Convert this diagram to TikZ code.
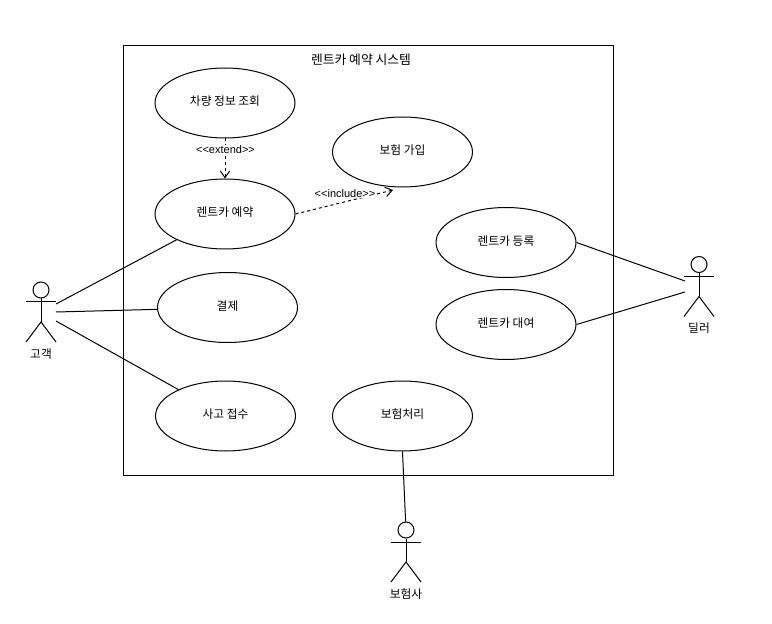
\documentclass[tikz,border=0pt]{standalone}
\usepackage{fontspec}
\setmainfont{Liberation Sans}
\newfontfamily\krfont{Noto Sans CJK KR}
\usetikzlibrary{shapes.geometric,arrows.meta}
\tikzset{
  x=0.75pt,y=-0.75pt,
  usecase/.style={draw,ellipse,minimum width=105pt,minimum height=52.5pt,inner sep=0pt,font=\krfont\fontsize{8.8}{10}\selectfont,text height=7pt,text depth=2.8pt,line width=0.75pt},
  actorhead/.style={draw,circle,minimum size=12pt,inner sep=0pt,line width=0.75pt},
  actorlabel/.style={font=\krfont\fontsize{8.8}{10}\selectfont,inner sep=0pt},
  stereo/.style={font=\fontsize{8.25}{10}\selectfont,fill=white,inner sep=0.5pt},
  assoc/.style={line width=0.75pt},
  dep/.style={line width=0.75pt,dash pattern=on 2.25pt off 2.25pt,-{Straight Barb[length=5pt,width=7pt]}}
}
\newcommand{\actorfig}[3]{%
  \node[actorhead] (#3) at (#1,#2) {};
  \coordinate (#3arml) at (#1-15,#2+12);
  \coordinate (#3armr) at (#1+15,#2+12);
  \coordinate (#3hip) at (#1,#2+32);
  \coordinate (#3footl) at (#1-15,#2+52);
  \coordinate (#3footr) at (#1+15,#2+52);
  \draw[assoc] (#3.south) -- (#3hip);
  \draw[assoc] (#3arml) -- (#3armr);
  \draw[assoc] (#3footl) -- (#3hip) -- (#3footr);
}
\begin{document}
\begin{tikzpicture}
\useasboundingbox (0,0) rectangle (772,624);
\fill[white] (0,0) rectangle (772,624);
\node[draw,line width=0.75pt,minimum width=367.5pt,minimum height=322.5pt,inner sep=0pt,anchor=north west] (frame) at (122.8,45) {};
\node[font=\krfont\fontsize{9.6}{11}\selectfont,inner sep=0pt] (title) at (361,60) {렌트카 예약 시스템};

\node[usecase] (car) at (225,103) {차량 정보 조회};
\node[usecase] (rent) at (225,214) {렌트카 예약};
\node[usecase] (ins) at (402.5,152) {보험 가입};
\node[usecase] (pay) at (227.5,307.5) {결제};
\node[usecase] (acc) at (225.5,416) {사고 접수};
\node[usecase] (proc) at (402.5,416) {보험처리};
\node[usecase] (reg) at (506,242.5) {렌트카 등록};
\node[usecase] (lend) at (506,324.5) {렌트카 대여};

\actorfig{41}{290}{cust}
\actorfig{699}{264.5}{deal}
\actorfig{406}{530}{insr}
\node[actorlabel] (custl) at (41,354) {고객};
\node[actorlabel] (deall) at (699,328.5) {딜러};
\node[actorlabel] (insrl) at (406,594) {보험사};

\coordinate (c1) at (56,304);
\coordinate (c2) at (56,312);
\coordinate (c3) at (56,321);
\coordinate (d1) at (685,281);
\coordinate (d2) at (685,292);
\coordinate (inc) at (393,190);

\draw[assoc] (c1) -- (rent);
\draw[assoc] (c2) -- (pay);
\draw[assoc] (c3) -- (acc);
\draw[assoc] (reg.east) -- (d1);
\draw[assoc] (lend.east) -- (d2);
\draw[assoc] (proc.south) -- (insr);

\draw[dep] (car.south) -- (rent.north);
\draw[dep] (rent.east) -- (inc);
\node[stereo] (ext) at (225.5,149.5) {<{}<extend>{}>};
\node[stereo] (incl) at (345,193.5) {<{}<include>{}>};
\end{tikzpicture}
\end{document}
